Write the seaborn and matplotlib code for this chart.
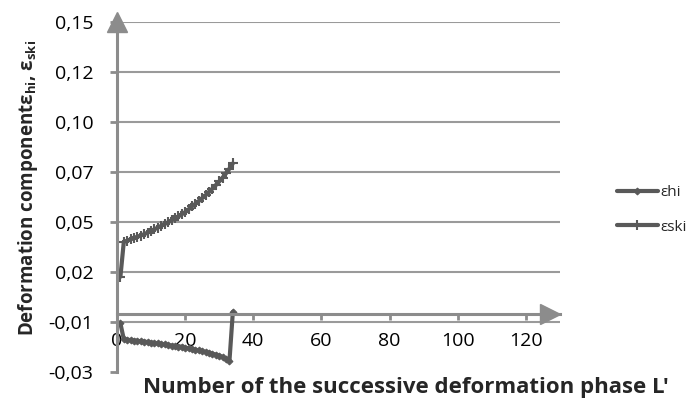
"""
Deformation components eps_hi / eps_ski vs successive deformation phase L'
"""

import numpy as np
import pandas as pd
import matplotlib
matplotlib.use("Agg")
import matplotlib.pyplot as plt
import seaborn as sns

# --- Data ---
phase = list(range(1, 35))

eps_hi = [-0.0050, -0.0132, -0.0134, -0.0136, -0.0138, -0.0140, -0.0142, -0.0144,
          -0.0146, -0.0149, -0.0151, -0.0153, -0.0156, -0.0158, -0.0161, -0.0164,
          -0.0166, -0.0169, -0.0172, -0.0175, -0.0178, -0.0182, -0.0185, -0.0189,
          -0.0193, -0.0197, -0.0201, -0.0206, -0.0211, -0.0216, -0.0223, -0.0232,
          -0.0243, 0.0010]

eps_ski = [0.0190, 0.0370, 0.0375, 0.0382, 0.0389, 0.0396, 0.0402, 0.0409,
           0.0417, 0.0425, 0.0434, 0.0443, 0.0452, 0.0461, 0.0470, 0.0480,
           0.0490, 0.0500, 0.0511, 0.0522, 0.0536, 0.0552, 0.0565, 0.0579,
           0.0594, 0.0609, 0.0626, 0.0643, 0.0661, 0.0680, 0.0700, 0.0722,
           0.0746, 0.0773]

x_ticks = [0, 20, 40, 60, 80, 100, 120]
y_tick_labels = ["-0,03", "-0,01", "0,02", "0,05", "0,07", "0,10", "0,12", "0,15"]

# --- Style ---
sns.set_style("white")
plt.rcParams["font.family"] = ["Open Sans", "DejaVu Sans"]
plt.rcParams["mathtext.fontset"] = "custom"
plt.rcParams["mathtext.rm"] = "Open Sans"
plt.rcParams["mathtext.bf"] = "Open Sans:bold"
plt.rcParams["mathtext.it"] = "Open Sans:italic"

LINE = "#595959"
AXIS = "#8c8c8c"
GRID = "#9a9a9a"

df = pd.DataFrame({
    "L": phase + phase,
    "eps": eps_hi + eps_ski,
    "serie": ["εhi"] * len(phase) + ["εski"] * len(phase),
})

fig = plt.figure(figsize=(6.95, 4.0), dpi=100)
ax = fig.add_axes([117 / 695, 28 / 400, 443 / 695, 350 / 400])

sns.lineplot(data=df[df["serie"] == "εhi"], x="L", y="eps", ax=ax, color=LINE,
             lw=3, marker="D", markersize=3.5, markeredgecolor=LINE, label="εhi")
sns.lineplot(data=df[df["serie"] == "εski"], x="L", y="eps", ax=ax, color=LINE,
             lw=3, marker="+", markersize=7, markeredgewidth=1.5,
             markeredgecolor=LINE, label="εski")

# axes
ax.set_xlim(0, 130)
ax.set_ylim(-0.03, 0.15)
y_ticks = np.linspace(-0.03, 0.15, len(y_tick_labels))
ax.set_yticks(y_ticks)
ax.set_yticklabels(y_tick_labels)
ax.set_xticks(x_ticks)
ax.set_xticklabels([str(v) for v in x_ticks])
ax.set_xlabel("")
ax.set_ylabel("")

for s in ["top", "right"]:
    ax.spines[s].set_visible(False)
ax.spines["bottom"].set_position(("data", 0))
for s in ["left", "bottom"]:
    ax.spines[s].set_color(AXIS)
    ax.spines[s].set_linewidth(2.2)

ax.tick_params(axis="x", direction="out", length=4.5, width=2, color=AXIS,
               pad=9, labelsize=14, labelcolor="black", bottom=True)
ax.tick_params(axis="y", direction="out", length=5, width=2, color=AXIS,
               pad=12, labelsize=14, labelcolor="black", left=True)

ax.yaxis.grid(True, color=GRID, lw=1.5)
ax.xaxis.grid(False)
ax.set_axisbelow(True)
ax.yaxis.get_gridlines()[0].set_visible(False)

# axis arrows
ax.plot([0], [0.15], marker="^", ms=14, color=AXIS, clip_on=False, zorder=5)
ax.plot([127], [0], marker=">", ms=14, color=AXIS, clip_on=False, zorder=5)

# legend
handles, labels = ax.get_legend_handles_labels()
ax.legend(handles, labels, bbox_transform=fig.transFigure,
          bbox_to_anchor=(603 / 695, 1 - 210 / 400), loc="center left",
          frameon=False, handlelength=2.7, handletextpad=0.15,
          labelspacing=1.25, fontsize=11)

# axis titles
fig.text(28 / 695, 1 - 188 / 400,
         r"Deformation componentε$_{\mathbf{hi}}$, ε$_{\mathbf{ski}}$",
         rotation=90, fontweight="bold", fontsize=13.5, ha="center", va="center")
fig.text(406 / 695, 12.5 / 400, "Number of the successive deformation phase L'",
         ha="center", va="center", fontweight="bold", fontsize=16)

fig.savefig("out.png", dpi=100)
plt.close()
